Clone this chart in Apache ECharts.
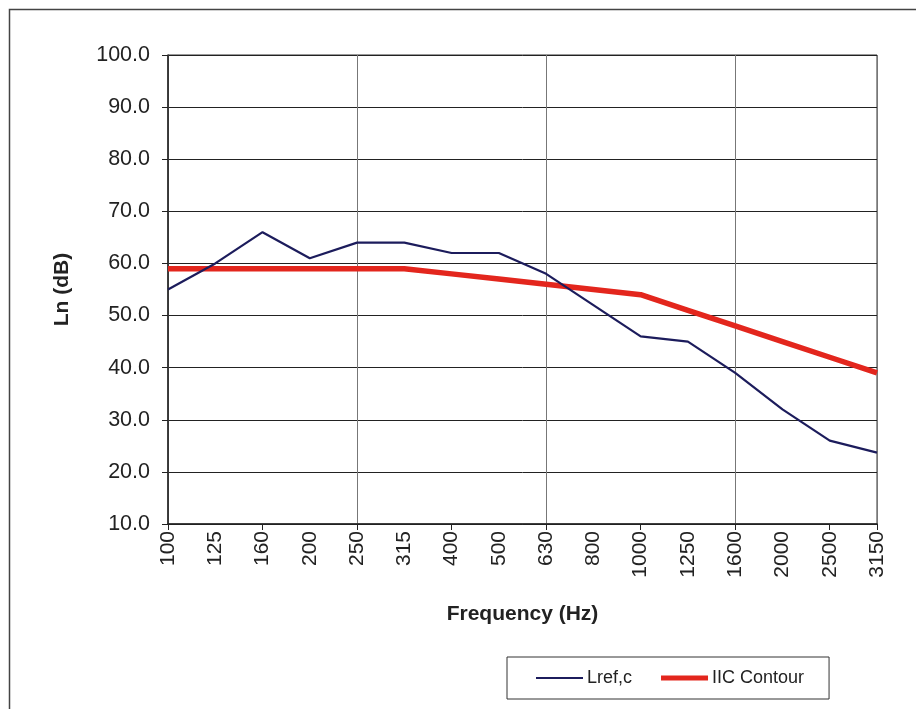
<!DOCTYPE html>
<html>
<head>
<meta charset="utf-8">
<script src="https://cdn.jsdelivr.net/npm/echarts@6/dist/echarts.min.js"></script>
<style>
html,body{margin:0;padding:0;background:#fff;}
#chart{width:916px;height:709px;}
</style>
</head>
<body>
<div id="chart"></div>
<script>
const categories = ['100','125','160','200','250','315','400','500','630','800','1000','1250','1600','2000','2500','3150'];
const lrefValues = [55, 60, 66, 61, 64, 64, 62, 62, 58, 52, 46, 45, 39, 32, 26, 23.7];
const iicValues = [59, 59, 59, 59, 59, 59, 58, 57, 56, 55, 54, 51, 48, 45, 42, 39];
const yMin = 10, yMax = 100, yStep = 10;

const font = '"Liberation Sans", Arial, Helvetica, sans-serif';
const chart = echarts.init(document.getElementById('chart'));
chart.setOption({
  animation: false,
  backgroundColor: '#fff',
  textStyle: { fontFamily: font },
  graphic: [{
    type: 'rect', left: 7, top: 7, z: -1,
    shape: { width: 1000, height: 1000 },
    style: { fill: 'none', stroke: '#444', lineWidth: 1.5 }
  }],
  grid: {
    left: 168, right: 39, top: 55, bottom: 185,
    show: true, borderColor: '#333', borderWidth: 1, backgroundColor: 'transparent'
  },
  legend: {
    left: 507, top: 657,
    padding: [12, 25, 12, 29],
    itemGap: 29,
    itemWidth: 47, itemHeight: 14,
    borderColor: '#333', borderWidth: 1,
    textStyle: { fontSize: 18, color: '#222', fontFamily: font, padding: [0, 0, 0, -1] },
    data: [
      { name: 'Lref,c', icon: 'path://M0 0H47V2.2H0Z' },
      { name: 'IIC Contour', icon: 'path://M0 0H47V5H0Z' }
    ]
  },
  xAxis: {
    type: 'category',
    data: categories,
    boundaryGap: false,
    name: 'Frequency (Hz)',
    nameLocation: 'middle',
    nameGap: 80,
    nameTextStyle: { fontSize: 21, fontWeight: 'bold', color: '#222', fontFamily: font },
    axisLine: { lineStyle: { color: '#222', width: 1.5 } },
    axisTick: { show: true, interval: 1, length: 6, lineStyle: { color: '#222' } },
    axisLabel: { interval: 0, rotate: 90, fontSize: 21, color: '#222', margin: 7, fontFamily: font },
    splitLine: { show: true, interval: 3, lineStyle: { color: '#777', width: 1 } }
  },
  yAxis: {
    type: 'value',
    min: yMin, max: yMax, interval: yStep,
    name: 'Ln (dB)',
    nameLocation: 'middle',
    nameRotate: 90,
    nameGap: 95,
    nameTextStyle: { fontSize: 21, fontWeight: 'bold', color: '#222', fontFamily: font },
    axisLine: { show: true, lineStyle: { color: '#222', width: 1.5 } },
    axisTick: { show: true, length: 6, lineStyle: { color: '#222' } },
    axisLabel: { fontSize: 21.5, color: '#222', margin: 18, fontFamily: font,
      formatter: v => v.toFixed(1) },
    splitLine: { show: true, lineStyle: { color: '#222', width: 1 } }
  },
  series: [
    {
      name: 'Lref,c', type: 'line', data: lrefValues,
      symbol: 'none', color: '#1c1c5c',
      lineStyle: { color: '#1c1c5c', width: 2.2 }, z: 3
    },
    {
      name: 'IIC Contour', type: 'line', data: iicValues,
      symbol: 'none', color: '#e3261d',
      lineStyle: { color: '#e3261d', width: 5.5 }, z: 2
    }
  ]
});
</script>
</body>
</html>
